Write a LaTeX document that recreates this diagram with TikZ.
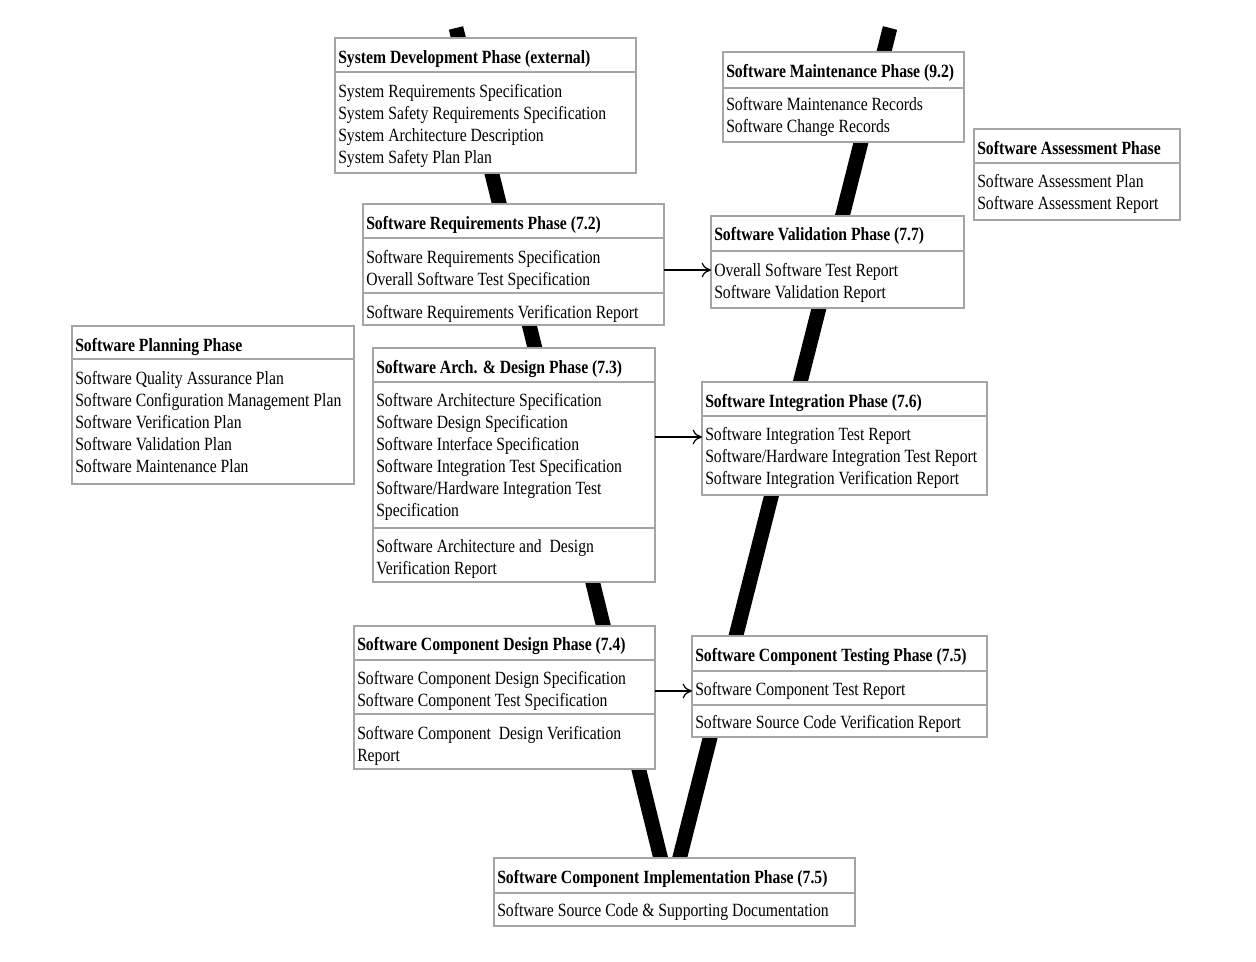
\documentclass[tikz,border=0pt]{standalone}
\usepackage{fontspec}
\setmainfont{Liberation Serif}[FakeStretch=0.84]
\usetikzlibrary{arrows.meta}
\definecolor{boxgray}{RGB}{165,165,165}
\newcommand\PBox[5]{\node[box, minimum width={(#4-#2)*0.75pt}, minimum height={(#5-#3)*0.75pt}] (#1) at ({(#2+#4)/2},{(#3+#5)/2}) {};}
\newcommand\PRule[2]{\draw[rule] (#1.west |- 0,#2) -- (#1.east |- 0,#2);}
\begin{document}
\begin{tikzpicture}[x=0.75pt,y=-0.75pt,
  box/.style={draw=boxgray, line width=0.8pt, fill=white, inner sep=0pt, outer sep=0pt},
  rule/.style={draw=boxgray, line width=0.8pt},
  vline/.style={line width=11pt, line cap=butt, line join=miter},
  txt/.style={anchor=base west, inner sep=0pt, font=\fontsize{14}{16}\selectfont},
  ttl/.style={txt, font=\fontsize{14}{16}\selectfont\bfseries},
  arr/.style={-{To[length=7pt,width=11pt]}, line width=0.9pt}]
\useasboundingbox (0,0) rectangle (1256,962);
% the V
\draw[vline] (456,28) -- (670,896) -- (890,28);
% boxes
\PBox{sysdev}{335}{38}{636}{173}
\PRule{sysdev}{72}
\PBox{req}{363}{204}{664}{325}
\PRule{req}{238}\PRule{req}{293}
\PBox{plan}{72}{326}{354}{484}
\PRule{plan}{359}
\PBox{arch}{373}{348}{655}{582}
\PRule{arch}{382}\PRule{arch}{528}
\PBox{cdes}{354}{626}{655}{769}
\PRule{cdes}{660}\PRule{cdes}{714}
\PBox{impl}{494}{858}{855}{926}
\PRule{impl}{893}
\PBox{ctest}{692}{636}{987}{737}
\PRule{ctest}{671}\PRule{ctest}{705}
\PBox{integ}{702}{382}{987}{495}
\PRule{integ}{416}
\PBox{valid}{711}{216}{964}{308}
\PRule{valid}{251}
\PBox{maint}{723}{52}{964}{142}
\PRule{maint}{88}
\PBox{assess}{974}{129}{1180}{220}
\PRule{assess}{163}
% texts
\node[ttl] (sd0) at (338,63.5) {System Development Phase (external)};
\node[txt] (sd1) at (338,97.5) {System Requirements Specification};
\node[txt] (sd2) at (338,119.5) {System Safety Requirements Specification};
\node[txt] (sd3) at (338,141.5) {System Architecture Description};
\node[txt] (sd4) at (338,163.5) {System Safety Plan Plan};
\node[ttl] (rq0) at (366,229.5) {Software Requirements Phase (7.2)};
\node[txt] (rq1) at (366,263.5) {Software Requirements Specification};
\node[txt] (rq2) at (366,285.5) {Overall Software Test Specification};
\node[txt] (rq3) at (366,318.5) {Software Requirements Verification Report};
\node[ttl] (pl0) at (75,351.5) {Software Planning Phase};
\node[txt] (pl1) at (75,384.5) {Software Quality Assurance Plan};
\node[txt] (pl2) at (75,406.5) {Software Configuration Management Plan};
\node[txt] (pl3) at (75,428.5) {Software Verification Plan};
\node[txt] (pl4) at (75,450.5) {Software Validation Plan};
\node[txt] (pl5) at (75,472.5) {Software Maintenance Plan};
\node[ttl] (ar0) at (376,373.5) {Software Arch. \& Design Phase (7.3)};
\node[txt] (ar1) at (376,406.5) {Software Architecture Specification};
\node[txt] (ar2) at (376,428.5) {Software Design Specification};
\node[txt] (ar3) at (376,450.5) {Software Interface Specification};
\node[txt] (ar4) at (376,472.5) {Software Integration Test Specification};
\node[txt] (ar5) at (376,494.5) {Software/Hardware Integration Test};
\node[txt] (ar6) at (376,516.5) {Specification};
\node[txt] (ar7) at (376,552.5) {Software Architecture and\ \ Design};
\node[txt] (ar8) at (376,574.5) {Verification Report};
\node[ttl] (cd0) at (357,650.5) {Software Component Design Phase (7.4)};
\node[txt] (cd1) at (357,684.5) {Software Component Design Specification};
\node[txt] (cd2) at (357,706.5) {Software Component Test Specification};
\node[txt] (cd3) at (357,739.5) {Software Component\ \ Design Verification};
\node[txt] (cd4) at (357,761.5) {Report};
\node[ttl] (im0) at (497,883.5) {Software Component Implementation Phase (7.5)};
\node[txt] (im1) at (497,916.5) {Software Source Code \& Supporting Documentation};
\node[ttl] (ct0) at (695,661.5) {Software Component Testing Phase (7.5)};
\node[txt] (ct1) at (695,695.5) {Software Component Test Report};
\node[txt] (ct2) at (695,728.5) {Software Source Code Verification Report};
\node[ttl] (in0) at (705,407.5) {Software Integration Phase (7.6)};
\node[txt] (in1) at (705,440.5) {Software Integration Test Report};
\node[txt] (in2) at (705,462.5) {Software/Hardware Integration Test Report};
\node[txt] (in3) at (705,484.5) {Software Integration Verification Report};
\node[ttl] (va0) at (714,240.5) {Software Validation Phase (7.7)};
\node[txt] (va1) at (714,276.5) {Overall Software Test Report};
\node[txt] (va2) at (714,298.5) {Software Validation Report};
\node[ttl] (ma0) at (726,77.5) {Software Maintenance Phase (9.2)};
\node[txt] (ma1) at (726,110.5) {Software Maintenance Records};
\node[txt] (ma2) at (726,132.5) {Software Change Records};
\node[ttl] (as0) at (977,154.5) {Software Assessment Phase};
\node[txt] (as1) at (977,187.5) {Software Assessment Plan};
\node[txt] (as2) at (977,209.5) {Software Assessment Report};
% arrows
\coordinate (y1) at (0,270);
\coordinate (y2) at (0,437);
\coordinate (y3) at (0,691);
\draw[arr] (req.east |- y1) -- (valid.west |- y1);
\draw[arr] (arch.east |- y2) -- (integ.west |- y2);
\draw[arr] (cdes.east |- y3) -- (ctest.west |- y3);
\end{tikzpicture}
\end{document}
